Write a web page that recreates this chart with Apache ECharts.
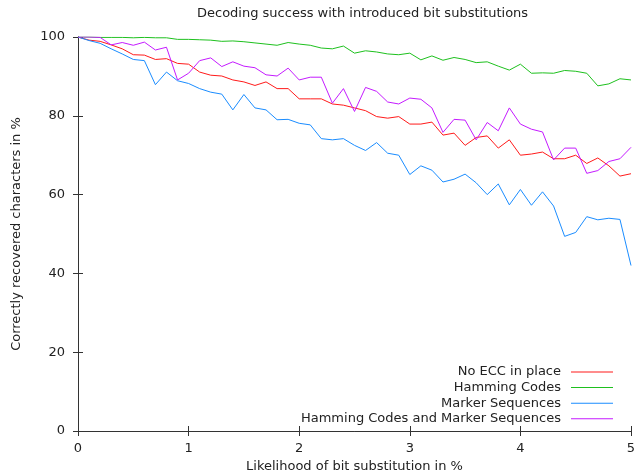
<!DOCTYPE html>
<html>
<head>
<meta charset="utf-8">
<script src="https://cdn.jsdelivr.net/npm/echarts@6/dist/echarts.min.js"></script>
<style>html,body{margin:0;padding:0;background:#fff}#c{width:635px;height:474px}</style>
</head>
<body>
<div id="c"></div>
<script>
var likelihood = [0,0.1,0.2,0.3,0.4,0.5,0.6,0.7,0.8,0.9,1,1.1,1.2,1.3,1.4,1.5,1.6,1.7,1.8,1.9,2,2.1,2.2,2.3,2.4,2.5,2.6,2.7,2.8,2.9,3,3.1,3.2,3.3,3.4,3.5,3.6,3.7,3.8,3.9,4,4.1,4.2,4.3,4.4,4.5,4.6,4.7,4.8,4.9,5];
var noEcc = [100,99.2,98.9,98.0,97.0,95.5,95.4,94.3,94.5,93.3,93.1,91.1,90.3,90.1,89.1,88.6,87.7,88.6,86.9,86.9,84.3,84.3,84.3,83.0,82.7,82.0,81.3,79.8,79.4,79.8,77.9,77.9,78.4,75.1,75.6,72.5,74.5,74.9,71.8,73.9,70.0,70.3,70.8,69.1,69.1,70.0,67.9,69.3,67.3,64.7,65.3];
var hamming = [100,100,99.9,99.9,99.9,99.8,99.9,99.8,99.8,99.4,99.4,99.3,99.2,98.9,99.0,98.8,98.5,98.2,97.9,98.6,98.2,97.9,97.2,97.0,97.7,95.9,96.5,96.2,95.7,95.5,95.9,94.2,95.2,94.1,94.8,94.3,93.5,93.7,92.6,91.6,93.1,90.8,90.9,90.8,91.5,91.3,90.8,87.6,88.1,89.4,89.1];
var marker = [100,99.1,98.4,97.0,95.7,94.3,94.0,87.9,91.1,88.9,88.2,86.9,86.0,85.5,81.5,85.4,82.0,81.5,79.0,79.1,78.1,77.7,74.2,73.9,74.2,72.5,71.2,73.2,70.5,70.0,65.1,67.3,66.2,63.2,63.9,65.2,63.0,60.0,62.7,57.4,61.3,57.3,60.7,57.1,49.4,50.4,54.4,53.6,54.0,53.7,42.0];
var hammingMarker = [100,100,99.9,98.0,98.6,97.9,98.7,96.7,97.4,89.1,90.8,94.0,94.7,92.5,93.7,92.6,92.2,90.4,90.1,92.1,89.1,89.8,89.8,83.2,86.9,81.1,87.2,86.2,83.5,83.0,84.5,84.2,82.0,75.8,79.1,78.9,73.9,78.3,76.2,82.0,77.9,76.6,75.9,68.8,71.8,71.8,65.4,66.1,68.4,69.1,72.0];
var seriesNames = ['No ECC in place','Hamming Codes','Marker Sequences','Hamming Codes and Marker Sequences'];
var seriesValues = [noEcc, hamming, marker, hammingMarker];
var seriesColors = ['#ff1a1a','#1ec01e','#1a8cff','#c41aff'];
var xTicks = [0,1,2,3,4,5];
var yTicks = [0,20,40,60,80,100];

var FONT = 'DejaVu Sans';
var TXT = '#222';
var chart = echarts.init(document.getElementById('c'), null, {renderer:'canvas'});

function pairs(vals){ return vals.map(function(v,i){ return [likelihood[i], v]; }); }

var axisCommon = {
  axisLine:{show:true, lineStyle:{color:'#333', width:1}},
  axisTick:{show:true, inside:true, length:5, lineStyle:{color:'#333', width:1}},
  splitLine:{show:false}
};

var legends = seriesNames.map(function(n,i){
  return {
    data:[n], orient:'vertical', align:'right', right:22, top:365.5 + i*15.6,
    icon:'rect', itemWidth:42, itemHeight:1, padding:0,
    textStyle:{fontSize:13, fontFamily:FONT, color:TXT, padding:[0,5,0,0]}
  };
});

var option = {
  animation:false,
  backgroundColor:'#fff',
  title:{text:'Decoding success with introduced bit substitutions', left:192, top:2,
    textStyle:{fontSize:13, fontWeight:'normal', fontFamily:FONT, color:TXT}},
  legend: legends,
  grid:{left:78, top:37, width:553, height:394, containLabel:false, outerBoundsMode:'none'},
  xAxis:[
    Object.assign({type:'value', min:xTicks[0], max:xTicks[xTicks.length-1], interval:1, position:'bottom',
      name:'Likelihood of bit substitution in %', nameLocation:'middle', nameGap:28,
      nameTextStyle:{fontSize:13, fontFamily:FONT, color:TXT},
      axisLabel:{fontSize:13, fontFamily:FONT, color:TXT, margin:11}}, axisCommon),
    Object.assign({type:'value', min:xTicks[0], max:xTicks[xTicks.length-1], interval:1, position:'top',
      axisLabel:{show:false}}, axisCommon)
  ],
  yAxis:[
    Object.assign({type:'value', min:yTicks[0], max:yTicks[yTicks.length-1], interval:20, position:'left',
      name:'Correctly recovered characters in %', nameLocation:'middle', nameGap:55,
      nameTextStyle:{fontSize:13, fontFamily:FONT, color:TXT},
      axisLabel:{fontSize:13, fontFamily:FONT, color:TXT, margin:13}}, axisCommon),
    Object.assign({type:'value', min:yTicks[0], max:yTicks[yTicks.length-1], interval:20, position:'right',
      axisLabel:{show:false}}, axisCommon)
  ],
  series: seriesNames.map(function(n,i){
    return {name:n, type:'line', data:pairs(seriesValues[i]), symbol:'none',
      lineStyle:{color:seriesColors[i], width:1}, itemStyle:{color:seriesColors[i]},
      xAxisIndex:0, yAxisIndex:0, z:2+i};
  })
};
chart.setOption(option);
</script>
</body>
</html>
